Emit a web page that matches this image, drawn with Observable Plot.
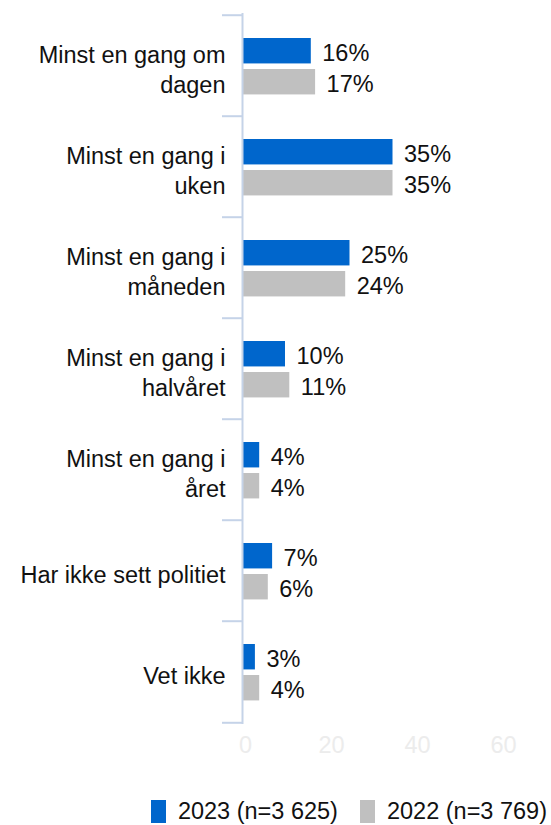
<!DOCTYPE html>
<html>
<head>
<meta charset="utf-8">
<script src="https://cdn.jsdelivr.net/npm/d3@7"></script>
<script src="https://cdn.jsdelivr.net/npm/@observablehq/plot@0.6"></script>
<style>
  html, body { margin: 0; padding: 0; background: #fff; }
  body { width: 551px; font-family: "Liberation Sans", Arial, sans-serif; }
  .legend { display: flex; justify-content: flex-end; align-items: center; margin-top: 28px; padding-right: 4px; font-size: 23.5px; color: #111; }
  .legend .item { display: flex; align-items: center; margin-left: 22px; }
  .legend .sw { width: 15px; height: 23px; margin-right: 12px; }
</style>
</head>
<body>
<div id="chart"></div>
<script>
const categories = ["Minst en gang om dagen", "Minst en gang i uken", "Minst en gang i måneden", "Minst en gang i halvåret", "Minst en gang i året", "Har ikke sett politiet", "Vet ikke"];
const tickLabels = ["Minst en gang om\ndagen", "Minst en gang i\nuken", "Minst en gang i\nmåneden", "Minst en gang i\nhalvåret", "Minst en gang i\nåret", "Har ikke sett politiet", "Vet ikke"];
const values2023 = [16, 35, 25, 10, 4, 7, 3];
const values2022 = [17, 35, 24, 11, 4, 6, 4];
const xTicks = [0, 20, 40, 60];
const seriesNames = ["2023 (n=3 625)", "2022 (n=3 769)"];
const colors = ["#0066cc", "#c0c0c0"];

const rows = categories.map((c, i) => ({category: c, v2023: values2023[i], v2022: values2022[i]}));

const W = 551, H = 770, mTop = 13, mBottom = 46;
const step = (H - mTop - mBottom) / categories.length;
const axisColor = "#c5d3e8";
const textColor = "#111";
const fs = 23.5;

const chart = Plot.plot({
  width: W,
  height: H,
  marginLeft: 242,
  marginRight: 51,
  marginTop: mTop,
  marginBottom: mBottom,
  style: {fontFamily: "'Liberation Sans', Arial, sans-serif", fontSize: fs + "px", color: textColor, background: "#fff"},
  x: {domain: [0, 60]},
  y: {domain: categories, padding: 0},
  marks: [
    Plot.barX(rows, {y: "category", x: "v2023", fill: colors[0], insetTop: 23, insetBottom: step - 49}),
    Plot.barX(rows, {y: "category", x: "v2022", fill: colors[1], insetTop: 54, insetBottom: step - 80}),
    Plot.text(rows, {y: "category", x: "v2023", text: d => d.v2023 + "%", dx: 11, dy: 38.5 - step / 2, textAnchor: "start", fontSize: fs, fill: textColor}),
    Plot.text(rows, {y: "category", x: "v2022", text: d => d.v2022 + "%", dx: 11, dy: 69.5 - step / 2, textAnchor: "start", fontSize: fs, fill: textColor}),
    Plot.ruleX([0], {stroke: axisColor, strokeWidth: 2}),
    Plot.ruleY(categories, {y: d => d, x1: 0, x2: 0, insetLeft: -20, dy: -step / 2, stroke: axisColor, strokeWidth: 2}),
    Plot.ruleY([categories[categories.length - 1]], {y: d => d, x1: 0, x2: 0, insetLeft: -20, dy: step / 2, stroke: axisColor, strokeWidth: 2}),
    Plot.axisY({tickSize: 0, tickPadding: 17, label: null, tickFormat: d => tickLabels[categories.indexOf(d)], fontSize: fs, lineHeight: 1.28, dy: 2.5, color: textColor}),
    Plot.axisX({ticks: xTicks, tickSize: 0, tickPadding: 12, label: null, fontSize: fs, color: "#ececec", dx: 3})
  ]
});
document.getElementById("chart").appendChild(chart);

const legend = document.createElement("div");
legend.className = "legend";
seriesNames.forEach((name, i) => {
  const item = document.createElement("div");
  item.className = "item";
  const sw = document.createElement("span");
  sw.className = "sw";
  sw.style.background = colors[i];
  const label = document.createElement("span");
  label.textContent = name;
  item.appendChild(sw);
  item.appendChild(label);
  legend.appendChild(item);
});
document.getElementById("chart").appendChild(legend);
</script>
</body>
</html>
